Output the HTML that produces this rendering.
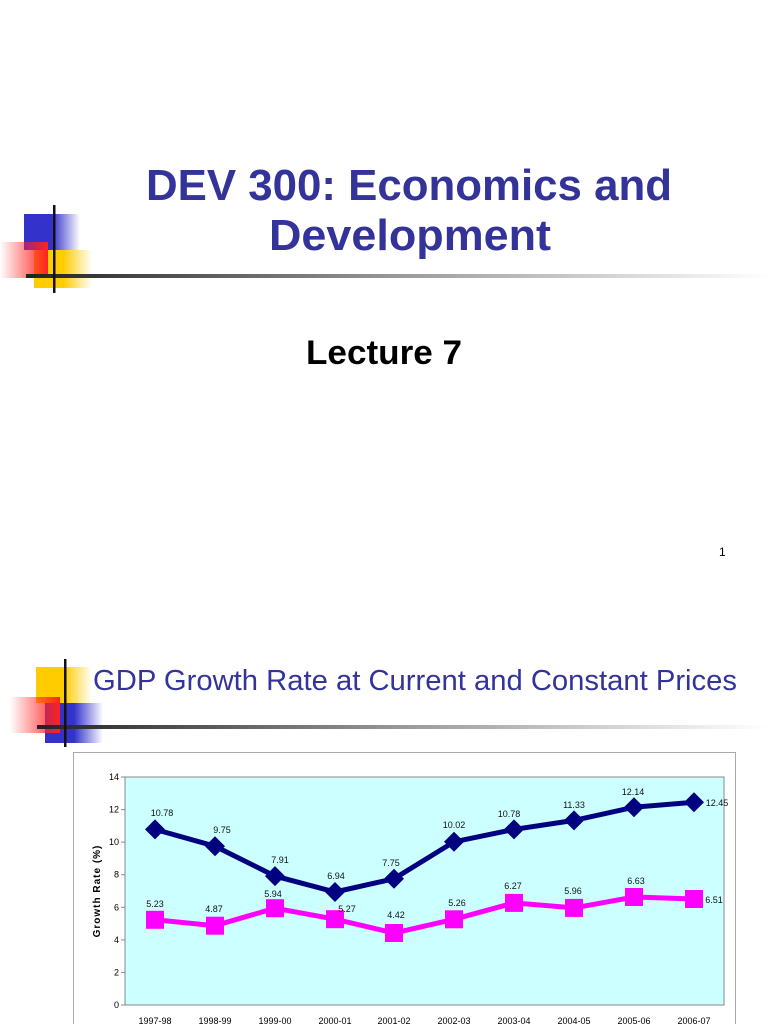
<!DOCTYPE html>
<html><head><meta charset="utf-8"><style>
html,body{margin:0;padding:0;background:#fff;}
svg{display:block;}
</style></head><body>
<svg width="768" height="1024" viewBox="0 0 768 1024" xmlns="http://www.w3.org/2000/svg" font-family="Liberation Sans, sans-serif">
<defs>
<linearGradient id="gb" x1="0" x2="1"><stop offset="0.5" stop-color="#3333cc"/><stop offset="1" stop-color="#3333cc" stop-opacity="0"/></linearGradient>
<linearGradient id="gy" x1="0" x2="1"><stop offset="0.5" stop-color="#ffcc00"/><stop offset="1" stop-color="#ffcc00" stop-opacity="0"/></linearGradient>
<linearGradient id="gr" x1="1" x2="0"><stop offset="0" stop-color="#ff2222"/><stop offset="1" stop-color="#ff2222" stop-opacity="0"/></linearGradient>
<linearGradient id="gl" x1="0" x2="1"><stop offset="0" stop-color="#222"/><stop offset="0.5" stop-color="#999"/><stop offset="1" stop-color="#fff"/></linearGradient>
</defs>
<rect x="24" y="214" width="56" height="36" fill="url(#gb)"/>
<rect x="34" y="250" width="58" height="38" fill="url(#gy)"/>
<rect x="0" y="242" width="48" height="36" fill="url(#gr)"/>
<rect x="26" y="274" width="742" height="4" fill="url(#gl)"/>
<rect x="53" y="205" width="2.5" height="88" fill="#111"/>
<text x="146" y="200" font-size="44" font-weight="bold" fill="#333399" textLength="526" lengthAdjust="spacingAndGlyphs">DEV 300: Economics and</text>
<text x="269" y="250" font-size="44" font-weight="bold" fill="#333399" textLength="282" lengthAdjust="spacingAndGlyphs">Development</text>
<text x="306" y="364" font-size="34" font-weight="bold" fill="#000" textLength="156" lengthAdjust="spacingAndGlyphs">Lecture 7</text>
<text x="719" y="556" font-size="12" fill="#000">1</text>
<rect x="36" y="667" width="56" height="36" fill="url(#gy)"/>
<rect x="45" y="703" width="58" height="40" fill="url(#gb)"/>
<rect x="10" y="697" width="50" height="36" fill="url(#gr)"/>
<rect x="37" y="725" width="731" height="4" fill="url(#gl)"/>
<rect x="64" y="659" width="2.5" height="88" fill="#111"/>
<text x="93" y="690" font-size="29" fill="#333399" textLength="644" lengthAdjust="spacingAndGlyphs">GDP Growth Rate at Current and Constant Prices</text>
<rect x="73.5" y="752.5" width="662" height="280" fill="#fff" stroke="#aaa"/>
<rect x="125" y="777" width="599" height="228" fill="#ccffff" stroke="#888"/>
<g font-size="9" fill="#000" text-anchor="end">
<text x="119" y="1008">0</text><text x="119" y="975.4">2</text><text x="119" y="942.8">4</text><text x="119" y="910.3">6</text><text x="119" y="877.7">8</text><text x="119" y="845.1">10</text><text x="119" y="812.5">12</text><text x="119" y="780">14</text>
</g>
<g stroke="#888"><line x1="121" y1="1005" x2="125" y2="1005"/><line x1="121" y1="972.4" x2="125" y2="972.4"/><line x1="121" y1="939.9" x2="125" y2="939.9"/><line x1="121" y1="907.3" x2="125" y2="907.3"/><line x1="121" y1="874.7" x2="125" y2="874.7"/><line x1="121" y1="842.1" x2="125" y2="842.1"/><line x1="121" y1="809.6" x2="125" y2="809.6"/><line x1="121" y1="777" x2="125" y2="777"/></g>
<text transform="translate(100,891) rotate(-90)" font-size="10" font-weight="bold" text-anchor="middle" letter-spacing="1">Growth Rate (%)</text>
<g font-size="9" text-anchor="middle">
<text x="155" y="1024">1997-98</text><text x="215" y="1024">1998-99</text><text x="275" y="1024">1999-00</text><text x="335" y="1024">2000-01</text><text x="394" y="1024">2001-02</text><text x="454" y="1024">2002-03</text><text x="514" y="1024">2003-04</text><text x="574" y="1024">2004-05</text><text x="634" y="1024">2005-06</text><text x="694" y="1024">2006-07</text>
</g>
<polyline fill="none" stroke="#000080" stroke-width="5" points="155,829.4 215,846.2 275,876.1 335,892.0 394,878.8 454,841.8 514,829.4 574,820.4 634,807.2 694,802.2"/>
<g fill="#000080">
<path d="M155,819.4l10,10l-10,10l-10,-10z"/><path d="M215,836.2l10,10l-10,10l-10,-10z"/><path d="M275,866.1l10,10l-10,10l-10,-10z"/><path d="M335,882l10,10l-10,10l-10,-10z"/><path d="M394,868.8l10,10l-10,10l-10,-10z"/><path d="M454,831.8l10,10l-10,10l-10,-10z"/><path d="M514,819.4l10,10l-10,10l-10,-10z"/><path d="M574,810.4l10,10l-10,10l-10,-10z"/><path d="M634,797.2l10,10l-10,10l-10,-10z"/><path d="M694,792.2l10,10l-10,10l-10,-10z"/>
</g>
<polyline fill="none" stroke="#ff00ff" stroke-width="5" points="155,919.8 215,925.7 275,908.2 335,919.2 394,933.0 454,919.3 514,902.9 574,907.9 634,897.0 694,899.0"/>
<g fill="#ff00ff">
<rect x="146" y="910.8" width="18" height="18"/><rect x="206" y="916.7" width="18" height="18"/><rect x="266" y="899.2" width="18" height="18"/><rect x="326" y="910.2" width="18" height="18"/><rect x="385" y="924" width="18" height="18"/><rect x="445" y="910.3" width="18" height="18"/><rect x="505" y="893.9" width="18" height="18"/><rect x="565" y="898.9" width="18" height="18"/><rect x="625" y="888" width="18" height="18"/><rect x="685" y="890" width="18" height="18"/>
</g>
<g font-size="9" fill="#111" text-anchor="middle">
<text x="162" y="816">10.78</text><text x="222" y="833">9.75</text><text x="280" y="863">7.91</text><text x="336" y="879">6.94</text><text x="391" y="866">7.75</text><text x="454" y="828">10.02</text><text x="509" y="817">10.78</text><text x="574" y="808">11.33</text><text x="633" y="795">12.14</text><text x="717" y="806">12.45</text>
<text x="155" y="907">5.23</text><text x="214" y="912">4.87</text><text x="273" y="897">5.94</text><text x="347" y="912">5.27</text><text x="396" y="918">4.42</text><text x="457" y="906">5.26</text><text x="513" y="889">6.27</text><text x="573" y="894">5.96</text><text x="636" y="884">6.63</text><text x="714" y="903">6.51</text>
</g>
</svg>
</body></html>
